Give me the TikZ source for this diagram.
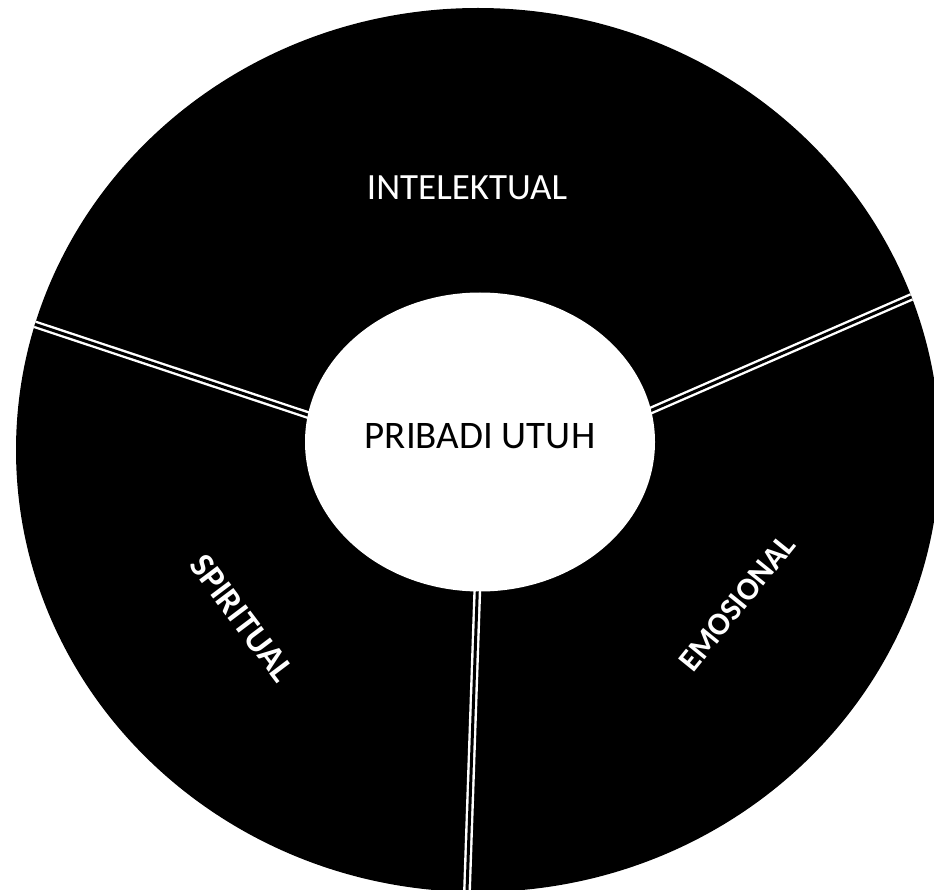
\documentclass[tikz,border=0pt]{standalone}
\usepackage{fontspec}
\setmainfont{Carlito}
\usetikzlibrary{shapes.geometric}
\begin{document}
\begin{tikzpicture}[x=1pt,y=-1pt,
    sekat/.style={draw=white,double=black,line width=2.4pt,double distance=3pt},
    pusat/.style={ellipse,fill=white,minimum width=350pt,minimum height=299pt,inner sep=0pt},
    judul/.style={font=\fontsize{39}{44}\selectfont},
    sisi/.style={text=white,font=\fontsize{32}{38}\selectfont\bfseries}]
        % 画像の範囲
        \useasboundingbox (0,0) rectangle (934,890);
        % 外側の黒い円
        \fill[black] (478,450) ellipse [x radius=462, y radius=442];
        % 区切り線の端
        \coordinate (kiriLuar) at (20,319.4);
        \coordinate (kiriDalam) at (320,419);
        \coordinate (kananLuar) at (940,284.5);
        \coordinate (kananDalam) at (630,419.6);
        \coordinate (bawahLuar) at (466.7,900);
        \coordinate (bawahDalam) at (478,570);
        % 区切り線（円の中だけ）
        \begin{scope}
          \clip (478,450) ellipse [x radius=462, y radius=442];
          \draw[sekat] (kiriDalam) -- (kiriLuar);
          \draw[sekat] (kananDalam) -- (kananLuar);
          \draw[sekat] (bawahDalam) -- (bawahLuar);
        \end{scope}
        % 中央の白い楕円
        \node[pusat] (pribadi) at (480,442) {};
        \node[judul,text=black] (utuh) at ([yshift=6pt]pribadi.center) {PRIBADI UTUH};
        % 各部分の文字
        \node[judul,text=white,font=\fontsize{37}{42}\selectfont] (intelektual) at (467,188) {INTELEKTUAL};
        \node[sisi,rotate=-53,font=\fontsize{35}{40}\selectfont\bfseries] (spiritual) at (242,618) {SPIRITUAL};
        \node[sisi,rotate=51] (emosional) at (737,603) {EMOSIONAL};
      \end{tikzpicture}
\end{document}
